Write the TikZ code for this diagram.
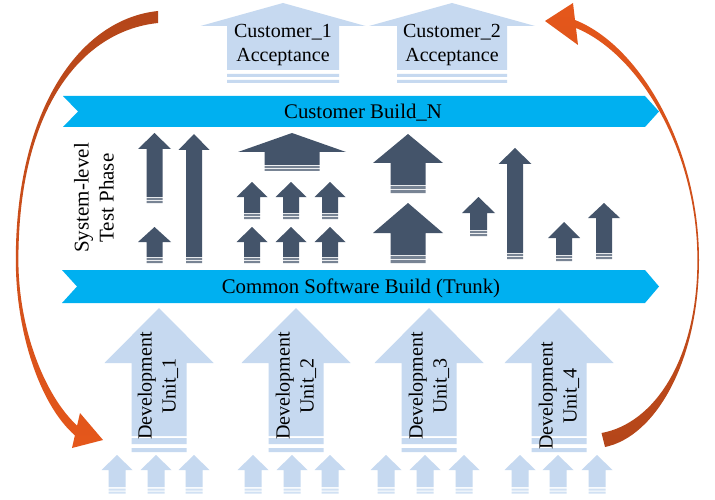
\documentclass[tikz,border=0pt]{standalone}
\usepackage{fontspec}
\setmainfont{Liberation Serif}

\definecolor{lightarrow}{HTML}{C6D9F0}
\definecolor{darkarrow}{HTML}{44546A}
\definecolor{bannerblue}{HTML}{00B0F0}
\definecolor{arcdark}{HTML}{B4461A}
\definecolor{arcbright}{HTML}{E5571B}

% block arrow pointing up: centre x, apex y, head half-width, shoulder y,
% body half-width, body bottom y, fill colour
\newcommand\uparw[7]{%
  \fill[#7] (#1,#2) -- ({#1+#3},#4) -- ({#1+#5},#4) -- ({#1+#5},#6)
    -- ({#1-#5},#6) -- ({#1-#5},#4) -- ({#1-#3},#4) -- cycle;}
% two bands under an arrow body: centre x, half-width, band 1 top/bottom,
% band 2 top/bottom, colour
\newcommand\bands[7]{%
  \fill[#7] ({#1-#2},{#3}) rectangle ({#1+#2},{#4})
            ({#1-#2},{#5}) rectangle ({#1+#2},{#6});}
% dark arrow with its striped base: centre x, apex, head half-width,
% shoulder, body half-width, body bottom, base
\newcommand\darkup[7]{%
  \uparw{#1}{#2}{#3}{#4}{#5}{#6}{darkarrow}%
  \bands{#1}{#5}{#6+1}{#6+0.5*(#7-#6)}{#6+0.5*(#7-#6)+1}{#7}{darkarrow!72!white}}
% small light arrow of the bottom row
\newcommand\smallup[1]{%
  \uparw{#1}{455}{15.5}{470}{8.5}{487}{lightarrow}%
  \bands{#1}{8.5}{488.5}{490.5}{491.5}{493.5}{lightarrow!80!white}}
% development arrow
\newcommand\devup[1]{%
  \uparw{#1}{308}{54.5}{363}{27.5}{436}{lightarrow}%
  \bands{#1}{27.5}{438}{444}{448}{452}{lightarrow}}
% banner with notched tail and pointed head: top, bottom, left x, tip x
\newcommand\banner[4]{%
  \fill[bannerblue] (#3,#1) -- ({#4-14},#1) -- (#4,{(#1+#2)/2}) -- ({#4-14},#2)
    -- (#3,#2) -- ({#3+15},{(#1+#2)/2}) -- cycle;}

\begin{document}
\begin{tikzpicture}[x=1pt,y=-1pt,
  lbl/.style={font=\fontsize{20}{24}\selectfont, align=center, inner sep=0pt, text=black},
  bannerlbl/.style={font=\fontsize{20.8}{24}\selectfont, inner sep=0pt, text=black},
  sidelbl/.style={font=\fontsize{21}{25}\selectfont, align=center, inner sep=0pt, rotate=90}]
\useasboundingbox (0,0) rectangle (715,500);
\fill[white] (0,0) rectangle (715,500);

% customer acceptance arrows
\uparw{283}{3}{82.5}{26}{56}{70}{lightarrow}
\bands{283}{56}{74}{77}{80}{83}{lightarrow}
\uparw{452}{3}{83}{26}{55}{70}{lightarrow}
\bands{452}{55}{74}{77}{80}{83}{lightarrow}
\node[lbl] (custA) at (283,45) {Customer\_1\\Acceptance};
\node[lbl] (custB) at (452,45) {Customer\_2\\Acceptance};

% build banners
\banner{96}{127}{63}{659}
\node[bannerlbl] (buildN) at (363,113) {Customer Build\_N};
\banner{270}{303}{62}{659}
\node[bannerlbl] (trunk) at (361,288) {Common Software Build (Trunk)};

% system-level test phase
\node[sidelbl] (syslvl) at (94,198) {System-level\\Test Phase};
\darkup{154.5}{133}{16.5}{149}{8}{197}{203}
\darkup{154.5}{227}{16.5}{242}{8}{257}{263}
\darkup{194}{134}{15.5}{150}{8}{257}{263}
\darkup{292}{133}{54}{152}{27.5}{165}{171}
\foreach \cx in {252,291,330}{
  \darkup{\cx}{182}{15.5}{197}{8}{213}{219}
  \darkup{\cx}{227}{15.5}{242}{8}{257}{263}
}
\darkup{408}{134}{35}{163}{17.5}{185}{193}
\darkup{408}{203}{35}{233}{17.5}{255}{263}
\darkup{478.5}{197}{16.5}{213}{8.5}{230}{236}
\darkup{515}{148}{16.5}{164}{8}{253}{259}
\darkup{564}{222}{16}{238}{8}{255}{261}
\darkup{604}{203}{16}{218}{8}{253}{259}

% development units
\devup{159}
\devup{296}
\devup{429}
\devup{559}
\node[lbl, rotate=90] (dev1) at (158,386) {Development\\Unit\_1};
\node[lbl, rotate=90] (dev2) at (296,386) {Development\\Unit\_2};
\node[lbl, rotate=90] (dev3) at (429,386) {Development\\Unit\_3};
\node[lbl, rotate=90] (dev4) at (559,396) {Development\\Unit\_4};

% incoming changes
\foreach \cx in {117,156,194,253,292,330,386,425,464,520,558,597}{\smallup{\cx}}

% feedback loop, left: from acceptance down to development
\shade[top color=arcdark, bottom color=arcbright]
  (158,11) .. controls (79.4,19) and (15.8,110) .. (15.8,260)
  .. controls (15.8,330) and (38.7,403.7) .. (74.9,435.4)
  -- (72,448) -- (103,440) -- (80,413) -- (77.1,425.6)
  .. controls (45.3,396.3) and (18.4,330) .. (18.4,260)
  .. controls (18.4,110) and (80.6,31) .. (158,23) -- cycle;

% feedback loop, right: from development up to acceptance
\shade[top color=arcbright, bottom color=arcdark]
  (605,447) .. controls (656.2,436.4) and (699,360) .. (699,260)
  .. controls (699,150) and (641.5,46.3) .. (575,20)
  -- (573,3) -- (545,21) -- (578,45) -- (576,28)
  .. controls (638.5,53.7) and (697.4,150) .. (697.4,260)
  .. controls (697.4,360) and (653.8,423.6) .. (601.5,433) -- cycle;
\end{tikzpicture}
\end{document}
